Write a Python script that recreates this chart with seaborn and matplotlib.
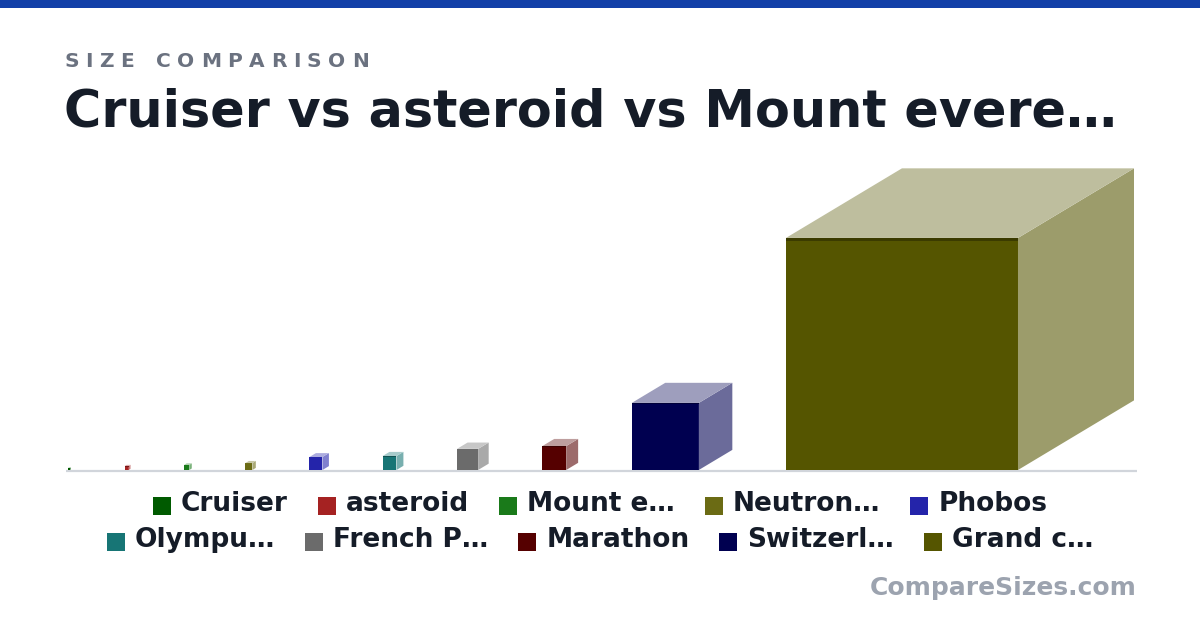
import numpy as np
import matplotlib
matplotlib.use("Agg")
import matplotlib.pyplot as plt
import seaborn as sns
from matplotlib.colors import to_rgb
from matplotlib.patches import Polygon, Rectangle

#%% data (relative edge length, Grand canyon = 100)
names = ["Cruiser", "asteroid", "Mount e…", "Neutron…", "Phobos",
         "Olympu…", "French P…", "Marathon", "Switzerl…", "Grand c…"]
sizes = [0.86, 1.7, 2.2, 3.0, 5.6, 6.0, 9.1, 10.3, 28.9, 100]
colors = ["#005a00", "#a52222", "#1a7a1a", "#6b6b14", "#2424aa",
          "#177575", "#6b6b6b", "#550000", "#000050", "#555500"]
title = "Cruiser vs asteroid vs Mount evere…"
subtitle = "SIZE COMPARISON"
site = "CompareSizes.com"


def mix(c, t):
    # blend a colour with white (t>0) or black (t<0)
    c = np.array(to_rgb(c))
    if t >= 0:
        return tuple(c + (1 - c) * t)
    return tuple(c * (1 + t))


sns.set_theme(style="white")
plt.rcParams['font.family'] = ['DejaVu Sans']

W_PX, H_PX = 1200, 630
fig = plt.figure(figsize=(12, 6.3), dpi=100)
fig.patch.set_facecolor("white")

# blue strip on top
fig.add_artist(Rectangle((0, 1 - 8 / H_PX), 1, 8 / H_PX, transform=fig.transFigure,
                         color="#1240a8", lw=0))

#%% cube layout
gap = 0.231 * max(sizes)
xs = []
cur = 0.0
for s in sizes:
    xs.append(cur)
    cur += 1.5 * s + gap
W = cur - gap
H = 1.3 * max(sizes)
chart_w = 1066
scale = chart_w / W
ax = fig.add_axes([68 / W_PX, (H_PX - 470) / H_PX, chart_w / W_PX, H * scale / H_PX])
ax.set_xlim(0, W)
ax.set_ylim(0, H)
ax.axis('off')

pal = sns.color_palette(colors)
ax.bar(xs, sizes, width=sizes, align='edge', color=pal, linewidth=0, zorder=3)
for x, s, c in zip(xs, sizes, pal):
    side = [(x + s, 0), (x + 1.5 * s, 0.3 * s), (x + 1.5 * s, 1.3 * s), (x + s, s)]
    top = [(x, s), (x + 0.5 * s, 1.3 * s), (x + 1.5 * s, 1.3 * s), (x + s, s)]
    ax.add_patch(Polygon(side, closed=True, color=mix(c, 0.42), lw=0, zorder=3))
    ax.add_patch(Polygon(top, closed=True, color=mix(c, 0.62), lw=0, zorder=3))
    strip = max(0.013 * s, 0.45 / scale)
    ax.add_patch(Rectangle((x, s - strip), s, strip, color=mix(c, -0.3), lw=0, zorder=4))

ax.plot([-2 / scale, W + 3 / scale], [-1 / scale, -1 / scale], color="#d1d5db",
        lw=1.6, clip_on=False, zorder=1, solid_capstyle='butt')

#%% texts
fig.canvas.draw()
rend = fig.canvas.get_renderer()

# letter-spaced subtitle
xpos = 64
for ch in subtitle:
    t = fig.text(xpos / W_PX, 1 - 67 / H_PX, ch, fontsize=14.5, fontweight='bold',
                 color="#6b7280", va='baseline', ha='left')
    xpos += t.get_window_extent(rend).width + 6.5
    if ch == " ":
        xpos += 2

fig.text(64 / W_PX, 1 - 127 / H_PX, title, fontsize=36.6, fontweight='bold',
         color="#151c28", va='baseline', ha='left')

fig.text(1137 / W_PX, 1 - 588 / H_PX, site, fontsize=18, fontweight='bold',
         color="#9ca3af", va='center', ha='right')

#%% legend, two centred rows
rows = [list(range(0, 5)), list(range(5, 10))]
row_y = [504, 540]
msize, mgap, igap = 18, 10, 30
for idx, yc in zip(rows, row_y):
    texts = []
    widths = []
    for i in idx:
        t = fig.text(0, 1 - yc / H_PX, names[i], fontsize=19, fontweight='bold',
                     color="#151c28", va='center', ha='left')
        texts.append(t)
        widths.append(t.get_window_extent(rend).width)
    total = sum(msize + mgap + w for w in widths) + igap * (len(idx) - 1)
    x0 = 600 - total / 2
    for i, t, w in zip(idx, texts, widths):
        fig.add_artist(Rectangle((x0 / W_PX, 1 - (yc + 2 + msize / 2) / H_PX),
                                 msize / W_PX, msize / H_PX,
                                 transform=fig.transFigure, color=pal[i], lw=0))
        t.set_x((x0 + msize + mgap) / W_PX)
        x0 += msize + mgap + w + igap

fig.savefig("out.png", dpi=100, facecolor="white")
